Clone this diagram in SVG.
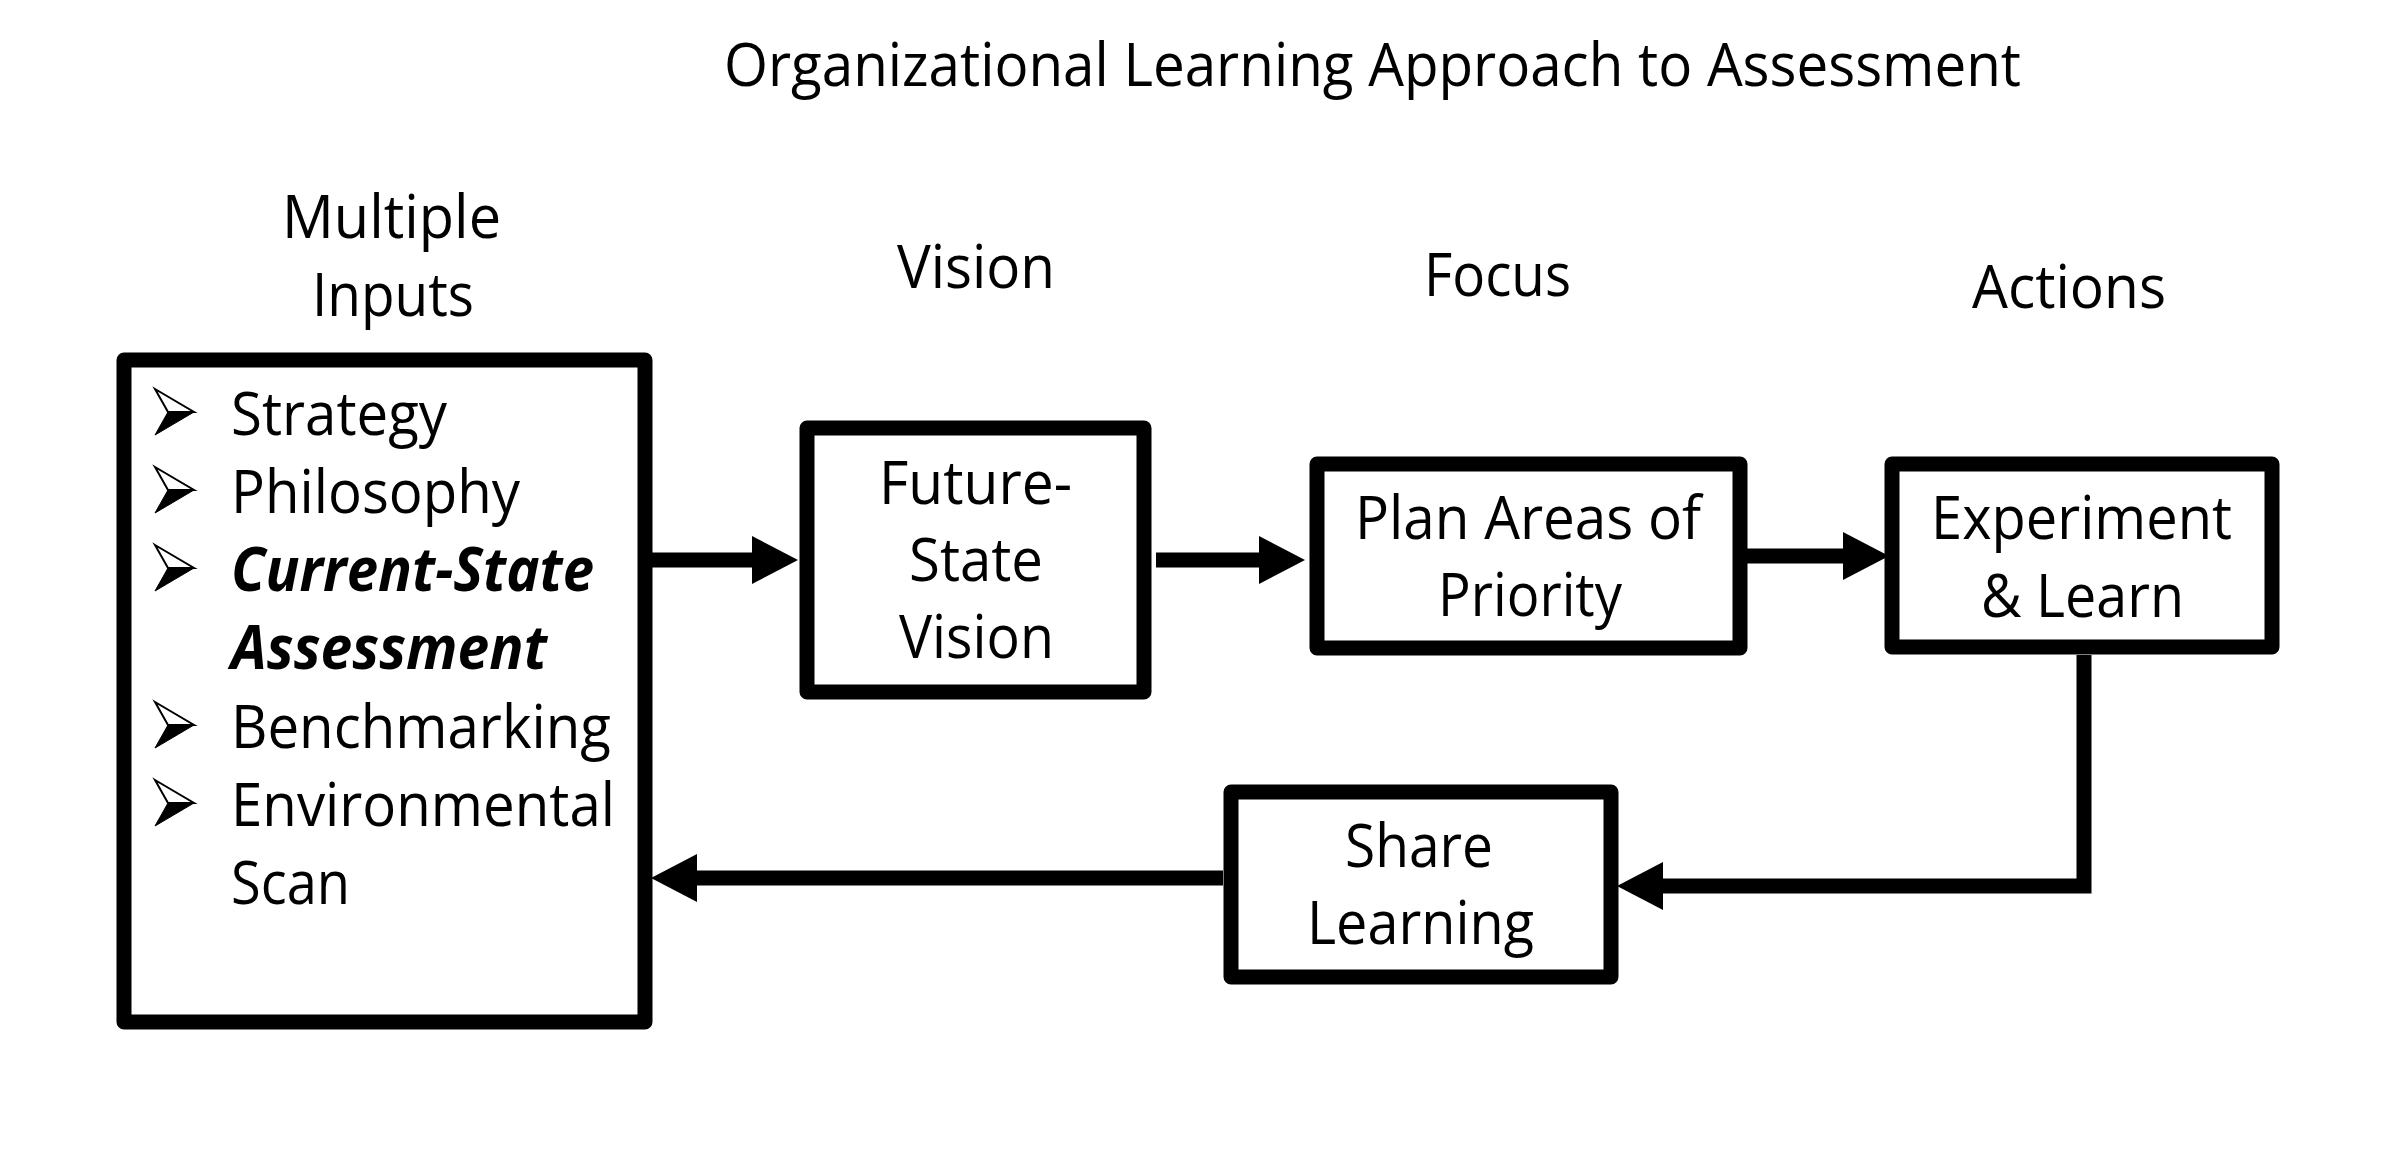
<svg xmlns="http://www.w3.org/2000/svg" width="2404" height="1152" viewBox="0 0 2404 1152">
  <style>
    .t { font-family: "Open Sans", "Noto Sans", "Liberation Sans", sans-serif; font-size: 60px; fill: #000; }
    .bi { font-weight: bold; font-style: italic; }
    .box { fill: #fff; stroke: #000; stroke-width: 15; stroke-linejoin: round; }
    .conn { fill: none; stroke: #000; stroke-width: 15; stroke-linecap: butt; stroke-linejoin: miter; }
    .bw { fill: #fff; stroke: #000; stroke-width: 2; stroke-linejoin: miter; }
    .bb { fill: #000; stroke: #000; stroke-width: 1; }
  </style>
  <defs>
    <marker id="ah" markerUnits="userSpaceOnUse" viewBox="0 0 46 48" markerWidth="46" markerHeight="48" refX="0" refY="24" orient="auto">
      <path d="M0,0 L46,24 L0,48 Z" fill="#000"/>
    </marker>
    <g id="bullet">
      <polygon class="bw" points="0,-46 39,-23 13,-23"/>
      <polygon class="bb" points="13,-23 39,-23 0,0"/>
    </g>
  </defs>
  <rect width="2404" height="1152" fill="#fff"/>

  <g id="labels">
    <text class="t" x="724" y="86" font-size="57" textLength="1297" lengthAdjust="spacingAndGlyphs">Organizational Learning Approach to Assessment</text>
    <text class="t" x="282" y="238" textLength="219" lengthAdjust="spacingAndGlyphs">Multiple</text>
    <text class="t" x="312" y="316" textLength="162" lengthAdjust="spacingAndGlyphs">Inputs</text>
    <text class="t" x="897" y="288" textLength="158" lengthAdjust="spacingAndGlyphs">Vision</text>
    <text class="t" x="1424" y="296" textLength="147" lengthAdjust="spacingAndGlyphs">Focus</text>
    <text class="t" x="1972" y="308" textLength="194" lengthAdjust="spacingAndGlyphs">Actions</text>
  </g>

  <g id="connectors">
    <path class="conn" d="M645,560 H752" marker-end="url(#ah)"/>
    <path class="conn" d="M1156,560 H1259" marker-end="url(#ah)"/>
    <path class="conn" d="M1746,556 H1843" marker-end="url(#ah)"/>
    <path class="conn" d="M2084,655 V886 H1663" marker-end="url(#ah)"/>
    <path class="conn" d="M1223,878 H697" marker-end="url(#ah)"/>
  </g>

  <g id="node-inputs">
    <rect class="box" x="124" y="360" width="521" height="662"/>
    <use href="#bullet" x="155" y="435"/>
    <text class="t" x="231" y="435" textLength="216" lengthAdjust="spacingAndGlyphs">Strategy</text>
    <use href="#bullet" x="155" y="513"/>
    <text class="t" x="231" y="513" textLength="289" lengthAdjust="spacingAndGlyphs">Philosophy</text>
    <use href="#bullet" x="155" y="591"/>
    <text class="t bi" x="231" y="591" textLength="363" lengthAdjust="spacingAndGlyphs">Current-State</text>
    <text class="t bi" x="231" y="669" textLength="316" lengthAdjust="spacingAndGlyphs">Assessment</text>
    <use href="#bullet" x="155" y="748"/>
    <text class="t" x="231" y="748" textLength="380" lengthAdjust="spacingAndGlyphs">Benchmarking</text>
    <use href="#bullet" x="155" y="826"/>
    <text class="t" x="231" y="826" textLength="384" lengthAdjust="spacingAndGlyphs">Environmental</text>
    <text class="t" x="231" y="904" textLength="119" lengthAdjust="spacingAndGlyphs">Scan</text>
  </g>

  <g id="node-vision">
    <rect class="box" x="807" y="428" width="337" height="264"/>
    <text class="t" x="879" y="504" textLength="193" lengthAdjust="spacingAndGlyphs">Future-</text>
    <text class="t" x="909" y="581" textLength="134" lengthAdjust="spacingAndGlyphs">State</text>
    <text class="t" x="899" y="658" textLength="155" lengthAdjust="spacingAndGlyphs">Vision</text>
  </g>

  <g id="node-plan">
    <rect class="box" x="1317" y="464" width="423" height="184"/>
    <text class="t" x="1355" y="539" textLength="346" lengthAdjust="spacingAndGlyphs">Plan Areas of</text>
    <text class="t" x="1438" y="616" textLength="184" lengthAdjust="spacingAndGlyphs">Priority</text>
  </g>

  <g id="node-experiment">
    <rect class="box" x="1892" y="464" width="380" height="183"/>
    <text class="t" x="1931" y="539" textLength="301" lengthAdjust="spacingAndGlyphs">Experiment</text>
    <text class="t" x="1981" y="617" textLength="203" lengthAdjust="spacingAndGlyphs">&amp; Learn</text>
  </g>

  <g id="node-share">
    <rect class="box" x="1231" y="792" width="380" height="185"/>
    <text class="t" x="1345" y="867" textLength="148" lengthAdjust="spacingAndGlyphs">Share</text>
    <text class="t" x="1307" y="944" textLength="227" lengthAdjust="spacingAndGlyphs">Learning</text>
  </g>
</svg>
